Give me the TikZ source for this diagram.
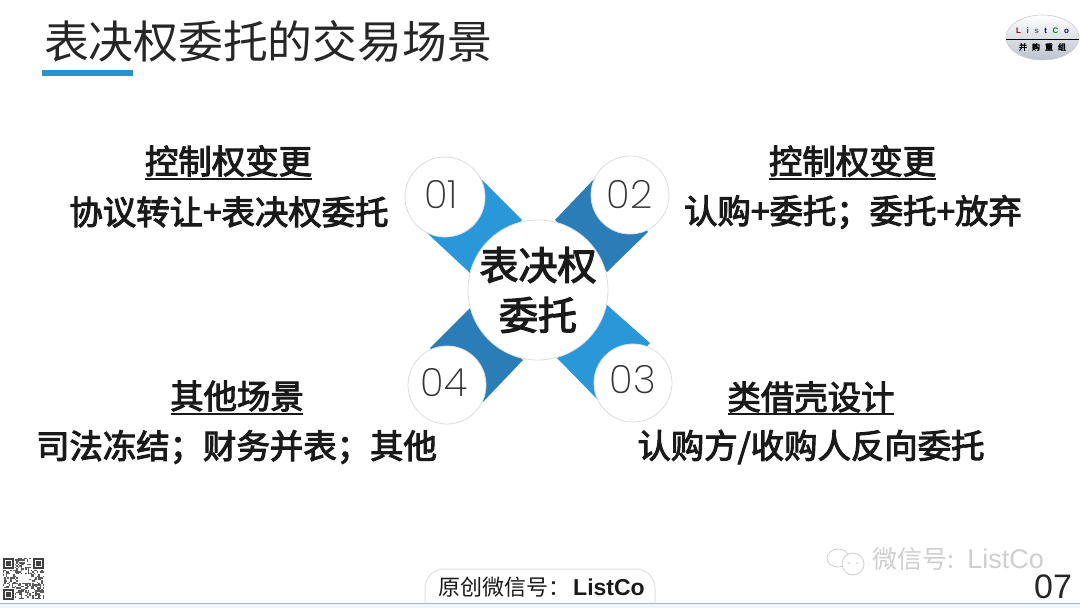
\documentclass[tikz,border=0pt]{standalone}
\usepackage{fontspec}
\setmainfont{Liberation Sans}
\newfontfamily\cjk{Noto Sans CJK SC}
\newfontfamily\cjkb[FakeBold=3]{Noto Sans CJK SC}
\newfontfamily\thinnum{Poppins ExtraLight}
\usetikzlibrary{shapes.geometric}
\definecolor{bandA}{HTML}{2A98D8}
\definecolor{bandB}{HTML}{2B7DB8}
\definecolor{bar}{HTML}{2A93CF}
\definecolor{ink}{HTML}{1A1A1A}
\definecolor{footline}{HTML}{7CC8C8}
\definecolor{foottint}{HTML}{EAF8F8}
\definecolor{rim}{HTML}{D8DDE2}
\definecolor{wm}{HTML}{CFCFCF}
\definecolor{logomid}{HTML}{B9C3CE}
\tikzset{
  x=1pt,y=-1pt,
  hub/.style={circle,draw=rim,line width=0.8pt,fill=white,minimum size=#1,inner sep=0pt,align=center},
  num/.style={font=\thinnum\fontsize{39}{39}\selectfont,text=black!80,inner sep=0pt},
  head/.style={font=\cjkb\fontsize{33.4}{36}\selectfont,text=ink,anchor=center,inner sep=0pt},
  ul/.style={line width=1.8pt,draw=ink},
}
\begin{document}
\begin{tikzpicture}
\useasboundingbox (0,0) rectangle (1080,608);
\fill[white] (0,0) rectangle (1080,608);
% title
\node[font=\cjk\fontsize{44.8}{48}\selectfont,text=black!85,anchor=center,inner sep=0pt] (title) at (268,41) {表决权委托的交易场景};
\fill[bar] (42,70) rectangle (133,76);
% logo
\node[ellipse,draw=black!20,line width=0.6pt,top color=white,bottom color=logomid,minimum width=73pt,minimum height=45pt,inner sep=0pt] (logo) at (1042.5,37.5) {};
\draw[line width=1pt,black] (1006,39) -- (1079,39);
\node[font=\bfseries\fontsize{8}{9}\selectfont,inner sep=0pt] (logoa) at (1042.5,31) {\textcolor{red!60!black}{L}\hspace{5.6pt}\textcolor{green!40!black}{i}\hspace{5.6pt}\textcolor{black!60}{s}\hspace{5.6pt}\textcolor{blue!60!black}{t}\hspace{5.6pt}\textcolor{green!50!black}{C}\hspace{5.6pt}\textcolor{blue!60!black}{o}};
\node[font=\cjkb\fontsize{8}{9}\selectfont,inner sep=0pt] (logob) at (1042.5,47) {并\hspace{5pt}购\hspace{5pt}重\hspace{5pt}组};
% bands
\fill[bandA] (482,180) -- (522,220) -- (470,273) -- (427,233) -- cycle;
\fill[bandB] (595,178) -- (555,220) -- (607,272) -- (648,232) -- cycle;
\fill[bandA] (607,305) -- (650,343) -- (598,400) -- (557,358) -- cycle;
\fill[bandB] (470,308) -- (430,348) -- (483,402) -- (523,360) -- cycle;
% circles
\node[hub=80pt] (n1) at (445,197) {};
\node[hub=78pt] (n2) at (630,195) {};
\node[hub=78pt] (n3) at (633,383) {};
\node[hub=78pt] (n4) at (447,385) {};
\node[num] (t1) at (441,195) {01};
\node[num] (t2) at (629.5,195) {02};
\node[num] (t3) at (633,380) {03};
\node[num] (t4) at (444,383) {04};
\node[hub=140pt] (hub) at (538,290) {};
\node[font=\cjkb\fontsize{39}{50}\selectfont,text=ink,align=center,inner sep=0pt] (hubtext) at (538,290) {表决权\\委托};
% labels
\node[head] (h1) at (228.5,161) {控制权变更};
\draw[ul] (145,179) -- (312,179);
\node[head] (s1) at (229,212) {协议转让+表决权委托};
\node[head] (h2) at (852.5,161) {控制权变更};
\draw[ul] (769,179) -- (936,179);
\node[head] (s2) at (853,212) {认购+委托；委托+放弃};
\node[head] (h3) at (811,397) {类借壳设计};
\draw[ul] (728,414) -- (894,414);
\node[head] (h4) at (237,396) {其他场景};
\draw[ul] (171,414) -- (303,414);
\node[head] (s3) at (811,447) {认购方/收购人反向委托};
\node[head] (s4) at (236.5,447) {司法冻结；财务并表；其他};
% footer
\fill[foottint] (0,603.5) rectangle (1080,608);
\draw[black!12,line width=1pt,fill=white,rounded corners=19] (425,569) rectangle (655,620);
\fill[foottint] (420,604) rectangle (660,608);
\draw[footline,line width=1.2pt] (0,603.5) -- (1080,603.5);
\node[font=\cjk\fontsize{22}{24}\selectfont,text=ink,inner sep=0pt,anchor=west] (foot) at (438,587) {原创微信号：};
\node[font=\bfseries\fontsize{23}{24}\selectfont,text=ink,inner sep=0pt,anchor=west] (foota) at (573,587) {ListCo};
\node[font=\fontsize{34}{34}\selectfont,text=black!85,inner sep=0pt,anchor=center] (page) at (1053,587) {07};
% watermark
\draw[wm,line width=0.8pt] (838,558) ellipse [x radius=11,y radius=9];
\draw[wm,line width=0.8pt,fill=white] (853,564) circle (11);
\fill[wm] (849,563) circle (1) (857,563) circle (1);
\node[font=\cjk\fontsize{25}{26}\selectfont,text=wm,inner sep=0pt,anchor=west] (wma) at (872,559) {微信号:};
\node[font=\fontsize{27}{28}\selectfont,text=wm,inner sep=0pt,anchor=east] (wmb) at (1044,559) {ListCo};
% QR code
\pgfmathsetseed{7}
\begin{scope}
\foreach \i in {0,...,27}{\foreach \j in {0,...,27}{
  \pgfmathparse{rnd>0.52?1:0}
  \ifnum\pgfmathresult=1
    \fill[black!65] ({3+\i*1.47},{558+\j*1.47}) rectangle +(1.47,1.47);
  \fi
}}
\fill[white] (18,574) rectangle (29,583);
\foreach \cx/\cy in {3/558,33/558,3/589}{
  \fill[white] (\cx-1,\cy-1) rectangle +(13,13);
  \fill[black!75] (\cx,\cy) rectangle +(11,11);
  \fill[white] (\cx+1.6,\cy+1.6) rectangle +(7.8,7.8);
  \fill[black!75] (\cx+3.2,\cy+3.2) rectangle +(4.6,4.6);
}
\end{scope}
\end{tikzpicture}
\end{document}
